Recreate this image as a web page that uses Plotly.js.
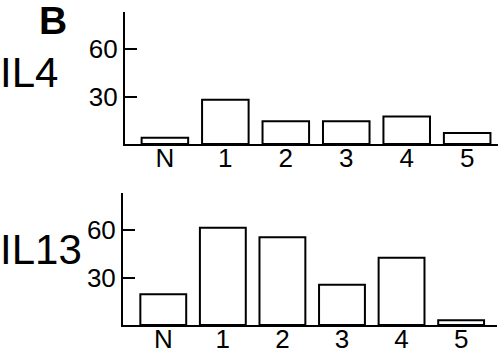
<!DOCTYPE html>
<html>
<head>
<meta charset="utf-8">
<script src="https://cdn.plot.ly/plotly-3.0.1.min.js"></script>
<style>html,body{margin:0;padding:0;background:#fff;}#chart{width:500px;height:353px;}</style>
</head>
<body>
<div id="chart"></div>
<script>
// Data
const categories = ["N", "1", "2", "3", "4", "5"];
const il4Values = [4, 28, 14.5, 14.5, 17.5, 7];
const il13Values = [19.5, 61.5, 55.5, 25.5, 42.5, 3];
const yTickVals = [30, 60];
const yTickText = ["30", "60"];
const panelLabel = "B";
const rowLabels = ["IL4", "IL13"];

const font = "Liberation Sans, Arial, sans-serif";
const barStyle = {color: "#ffffff", line: {color: "#000000", width: 2}};

const traces = [
  {type: "bar", x: categories.map((c, i) => i), y: il4Values, xaxis: "x", yaxis: "y",
   marker: barStyle, width: 0.77, hoverinfo: "skip"},
  {type: "bar", x: categories.map((c, i) => i), y: il13Values, xaxis: "x2", yaxis: "y2",
   marker: barStyle, width: 0.77, hoverinfo: "skip"}
];

const yBase = {
  range: [0, 83.5], tickvals: yTickVals, ticktext: yTickText,
  ticks: "inside", ticklen: 12, tickwidth: 2, tickcolor: "#000",
  showline: true, linecolor: "#000", linewidth: 2, showgrid: false, zeroline: false,
  tickfont: {family: font, size: 26, color: "#000"}, ticklabelstandoff: 0, fixedrange: true
};
const xBase = {
  tickvals: categories.map((c, i) => i), ticktext: categories,
  ticks: "", showline: true, linecolor: "#000", linewidth: 2, showgrid: false, zeroline: false,
  tickfont: {family: font, size: 26, color: "#000"}, ticklabelstandoff: -10, fixedrange: true
};

const layout = {
  width: 500, height: 353,
  margin: {l: 123, r: 2, t: 12, b: 28},
  paper_bgcolor: "#ffffff", plot_bgcolor: "#ffffff",
  showlegend: false,
  xaxis: Object.assign({}, xBase, {domain: [0.0053, 1], range: [-0.66, 5.51], anchor: "y"}),
  yaxis: Object.assign({}, yBase, {domain: [0.578, 1], anchor: "x"}),
  xaxis2: Object.assign({}, xBase, {domain: [0, 0.997], range: [-0.676, 5.6], anchor: "y2"}),
  yaxis2: Object.assign({}, yBase, {domain: [0, 0.4217], anchor: "x2"}),
  annotations: [
    {text: "<b>" + panelLabel + "</b>", xref: "paper", yref: "paper", x: -0.188, y: 0.972,
     xanchor: "center", yanchor: "middle", showarrow: false, font: {family: font, size: 39, color: "#000"}},
    {text: rowLabels[0], xref: "paper", yref: "paper", x: -0.251, y: 0.808,
     xanchor: "center", yanchor: "middle", showarrow: false, font: {family: font, size: 42, color: "#000"}},
    {text: rowLabels[1], xref: "paper", yref: "paper", x: -0.218, y: 0.241,
     xanchor: "center", yanchor: "middle", showarrow: false, font: {family: font, size: 42, color: "#000"}}
  ]
};

Plotly.newPlot("chart", traces, layout, {displayModeBar: false, staticPlot: true});
</script>
</body>
</html>
